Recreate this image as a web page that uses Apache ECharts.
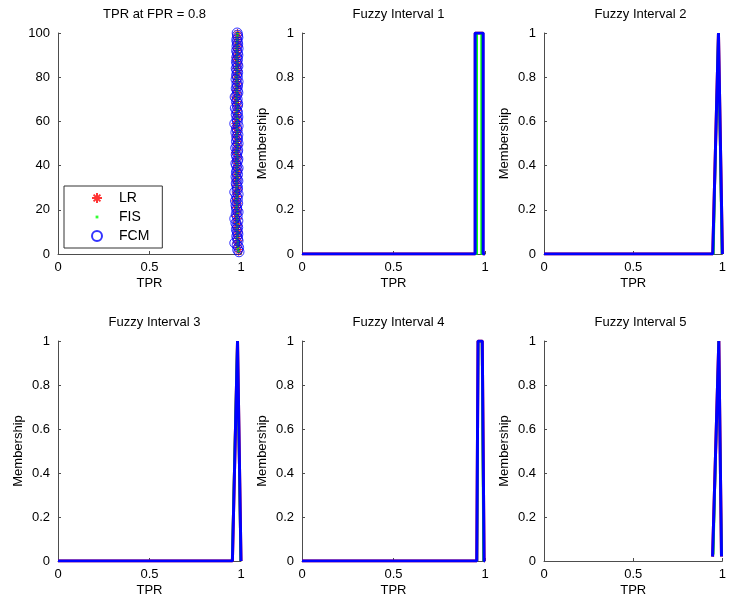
<!DOCTYPE html>
<html>
<head>
<meta charset="utf-8">
<script src="https://cdn.jsdelivr.net/npm/echarts@6/dist/echarts.min.js"></script>
<style>
  html, body { margin: 0; padding: 0; background: #fff; }
  #chart { width: 729px; height: 606px; }
</style>
</head>
<body>
<div id="chart"></div>
<script>
// Trial index (y axis of the first panel)
const trials = [
  1,2,3,4,5,6,7,8,9,10,11,12,13,14,15,16,17,18,19,20,
  21,22,23,24,25,26,27,28,29,30,31,32,33,34,35,36,37,38,39,40,
  41,42,43,44,45,46,47,48,49,50,51,52,53,54,55,56,57,58,59,60,
  61,62,63,64,65,66,67,68,69,70,71,72,73,74,75,76,77,78,79,80,
  81,82,83,84,85,86,87,88,89,90,91,92,93,94,95,96,97,98,99,100
];

// TPR at FPR = 0.8 for each trial
const tprLR = [
  0.987,0.989,0.981,0.984,0.974,0.988,0.979,0.983,0.975,0.986,
  0.980,0.971,0.986,0.979,0.974,0.983,0.970,0.981,0.976,0.985,
  0.968,0.980,0.984,0.966,0.978,0.983,0.975,0.971,0.986,0.979,
  0.974,0.982,0.969,0.977,0.984,0.972,0.980,0.985,0.973,0.978,
  0.983,0.970,0.976,0.985,0.979,0.967,0.981,0.975,0.986,0.972,
  0.978,0.984,0.971,0.980,0.976,0.985,0.967,0.982,0.969,0.977,
  0.985,0.974,0.980,0.972,0.983,0.978,0.986,0.970,0.981,0.975,
  0.966,0.984,0.977,0.972,0.982,0.979,0.986,0.974,0.980,0.971,
  0.983,0.976,0.985,0.973,0.979,0.986,0.975,0.981,0.970,0.984,
  0.977,0.982,0.974,0.986,0.978,0.980,0.983,0.976,0.985,0.981
];
const tprFIS = [
  0.986,0.984,0.983,0.980,0.982,0.985,0.977,0.981,0.979,0.983,
  0.976,0.978,0.982,0.975,0.979,0.980,0.976,0.977,0.981,0.979,
  0.975,0.977,0.980,0.972,0.976,0.979,0.978,0.974,0.981,0.976,
  0.978,0.977,0.974,0.980,0.979,0.975,0.977,0.981,0.976,0.980,
  0.978,0.974,0.979,0.981,0.976,0.973,0.978,0.979,0.982,0.975,
  0.980,0.978,0.975,0.977,0.979,0.981,0.976,0.978,0.974,0.980,
  0.981,0.977,0.976,0.975,0.979,0.980,0.982,0.974,0.978,0.977,
  0.973,0.980,0.979,0.976,0.978,0.977,0.981,0.976,0.979,0.974,
  0.980,0.978,0.981,0.975,0.977,0.982,0.978,0.979,0.975,0.980,
  0.979,0.978,0.976,0.981,0.979,0.977,0.980,0.978,0.981,0.980
];
const tprFCM = [
  0.989,0.982,0.987,0.979,0.966,0.984,0.981,0.977,0.983,0.980,
  0.975,0.982,0.978,0.972,0.983,0.966,0.979,0.974,0.984,0.977,
  0.976,0.973,0.982,0.970,0.980,0.976,0.984,0.966,0.979,0.981,
  0.977,0.974,0.983,0.978,0.973,0.981,0.975,0.979,0.984,0.976,
  0.972,0.980,0.983,0.977,0.974,0.979,0.982,0.971,0.978,0.984,
  0.975,0.981,0.977,0.983,0.972,0.979,0.976,0.984,0.966,0.980,
  0.978,0.983,0.974,0.981,0.977,0.969,0.980,0.982,0.975,0.979,
  0.968,0.977,0.983,0.979,0.974,0.981,0.978,0.984,0.973,0.980,
  0.976,0.982,0.978,0.974,0.983,0.979,0.975,0.981,0.977,0.983,
  0.980,0.976,0.984,0.978,0.982,0.979,0.977,0.983,0.981,0.979
];

// Membership functions: [TPR, membership] vertices for each method
const mf1LR  = [[0, 0], [0.947, 0], [0.947, 1], [0.988, 1], [0.988, 0], [1, 0]];
const mf1FIS = [[0, 0], [0.956, 0], [0.956, 1], [0.980, 1], [0.980, 0], [1, 0]];
const mf1FCM = [[0, 0], [0.946, 0], [0.946, 1], [0.990, 1], [0.990, 0], [1, 0]];

const mf2LR  = [[0, 0], [0.946, 0], [0.978, 1], [1.000, 0]];
const mf2FIS = [[0, 0], [0.951, 0], [0.976, 1], [0.996, 0]];
const mf2FCM = [[0, 0], [0.946, 0], [0.978, 1], [1.000, 0]];

const mf3LR  = [[0, 0], [0.953, 0], [0.981, 1], [1.000, 0]];
const mf3FIS = [[0, 0], [0.950, 0], [0.979, 1], [0.997, 0]];
const mf3FCM = [[0, 0], [0.953, 0], [0.981, 1], [1.000, 0]];

const mf4LR  = [[0, 0], [0.955, 0], [0.962, 1], [0.985, 1], [0.995, 0], [1, 0]];
const mf4FIS = [[0, 0], [0.957, 0], [0.964, 1], [0.982, 1], [0.991, 0], [1, 0]];
const mf4FCM = [[0, 0], [0.955, 0], [0.962, 1], [0.985, 1], [0.995, 0], [1, 0]];

const mf5LR  = [[0.945, 0.02], [0.980, 1], [0.995, 0.02]];
const mf5FIS = [[0.950, 0.03], [0.979, 1], [0.996, 0.03]];
const mf5FCM = [[0.945, 0.02], [0.980, 1], [0.995, 0.02]];

const panelTitles = ['TPR at FPR = 0.8', 'Fuzzy Interval 1', 'Fuzzy Interval 2',
                     'Fuzzy Interval 3', 'Fuzzy Interval 4', 'Fuzzy Interval 5'];
const methodNames = ['LR', 'FIS', 'FCM'];
const xTickStep = 0.5;
const memTickStep = 0.2;
const trialTickStep = 20;

const RED = '#ff0000', GREEN = '#00ff00', BLUE = '#0000ff';
const FONT = 'Liberation Sans, Arial, sans-serif';
const AXIS_COLOR = '#4d4d4d';

// Panel layout in pixels
const colLeft = [58, 302, 544];
const rowTop = [33, 341];
const panelW = 183;
const panelH = [221, 220];

const grids = [], xAxes = [], yAxes = [], titles = [];
for (let i = 0; i < 6; i++) {
  const c = i % 3, r = Math.floor(i / 3);
  grids.push({ left: colLeft[c], top: rowTop[r], width: panelW, height: panelH[r], containLabel: false });
  titles.push({
    text: panelTitles[i],
    left: colLeft[c] + panelW / 2,
    top: rowTop[r] - 30,
    textAlign: 'center',
    textStyle: { fontFamily: FONT, fontSize: 13, fontWeight: 'normal', color: '#000' }
  });
  xAxes.push({
    gridIndex: i, type: 'value', min: 0, max: 1, interval: xTickStep,
    name: 'TPR', nameLocation: 'middle', nameGap: 23,
    nameTextStyle: { fontFamily: FONT, fontSize: 13, color: '#000' },
    axisLine: { show: true, onZero: false, lineStyle: { color: AXIS_COLOR, width: 1 } },
    axisTick: { show: true, inside: true, length: 3, lineStyle: { color: AXIS_COLOR } },
    axisLabel: { fontFamily: FONT, fontSize: 13, color: '#000', margin: 7,
                 formatter: v => String(v) },
    splitLine: { show: false }
  });
  const isTrial = i === 0;
  yAxes.push({
    gridIndex: i, type: 'value', min: 0, max: isTrial ? 100 : 1,
    interval: isTrial ? trialTickStep : memTickStep,
    name: isTrial ? '' : 'Membership', nameLocation: 'middle', nameGap: 33,
    nameTextStyle: { fontFamily: FONT, fontSize: 13, color: '#000' },
    axisLine: { show: true, onZero: false, lineStyle: { color: AXIS_COLOR, width: 1 } },
    axisTick: { show: true, inside: true, length: 3, lineStyle: { color: AXIS_COLOR } },
    axisLabel: { fontFamily: FONT, fontSize: 13, color: '#000', margin: 8,
                 formatter: v => String(Math.round(v * 10) / 10) },
    splitLine: { show: false }
  });
}

const ASTERISK = 'path://M0,5L10,5M5,0L5,10M1.6,1.6L8.4,8.4M8.4,1.6L1.6,8.4';
const DOT_ICON = 'path://M0,0M10,10M3.6,3.6L6.4,3.6L6.4,6.4L3.6,6.4Z';

const pairs = (xs) => xs.map((x, k) => [x, trials[k]]);

const series = [
  {
    name: 'LR', type: 'scatter', xAxisIndex: 0, yAxisIndex: 0,
    data: pairs(tprLR), symbol: ASTERISK, symbolSize: 8,
    itemStyle: { color: 'rgba(0,0,0,0)', borderColor: RED, borderWidth: 1 },
    emphasis: { disabled: true }, silent: true, z: 2
  },
  {
    name: 'FIS', type: 'scatter', xAxisIndex: 0, yAxisIndex: 0,
    data: pairs(tprFIS), symbol: 'circle', symbolSize: 3,
    itemStyle: { color: GREEN }, emphasis: { disabled: true }, silent: true, z: 3
  },
  {
    name: 'FCM', type: 'scatter', xAxisIndex: 0, yAxisIndex: 0,
    data: pairs(tprFCM), symbol: 'circle', symbolSize: 10,
    itemStyle: { color: 'rgba(0,0,0,0)', borderColor: BLUE, borderWidth: 1 },
    emphasis: { disabled: true }, silent: true, z: 4
  }
];

const mfSets = [
  [mf1LR, mf1FIS, mf1FCM],
  [mf2LR, mf2FIS, mf2FCM],
  [mf3LR, mf3FIS, mf3FCM],
  [mf4LR, mf4FIS, mf4FCM],
  [mf5LR, mf5FIS, mf5FCM]
];
const mfColors = [RED, GREEN, BLUE];
mfSets.forEach((set, p) => {
  set.forEach((pts, m) => {
    series.push({
      name: methodNames[m] + ' MF' + (p + 1), type: 'line',
      xAxisIndex: p + 1, yAxisIndex: p + 1,
      data: pts, symbol: 'none', smooth: false, silent: true,
      lineStyle: { color: mfColors[m], width: m === 1 ? 2 : 3 },
      emphasis: { disabled: true }, z: 2 + m
    });
  });
});

const chart = echarts.init(document.getElementById('chart'), null, { renderer: 'canvas' });
chart.setOption({
  animation: false,
  backgroundColor: '#fff',
  title: titles,
  grid: grids,
  xAxis: xAxes,
  yAxis: yAxes,
  legend: {
    orient: 'vertical',
    left: 64, top: 186,
    padding: [5, 13, 5, 27],
    itemWidth: 34, itemHeight: 10, itemGap: 5,
    backgroundColor: '#fff',
    borderColor: '#333', borderWidth: 1, borderRadius: 0,
    selectedMode: false,
    textStyle: { fontFamily: FONT, fontSize: 14, color: '#000' },
    data: [
      { name: 'LR', icon: ASTERISK },
      { name: 'FIS', icon: DOT_ICON },
      { name: 'FCM', icon: 'circle' }
    ]
  },
  series: series
});
</script>
</body>
</html>
